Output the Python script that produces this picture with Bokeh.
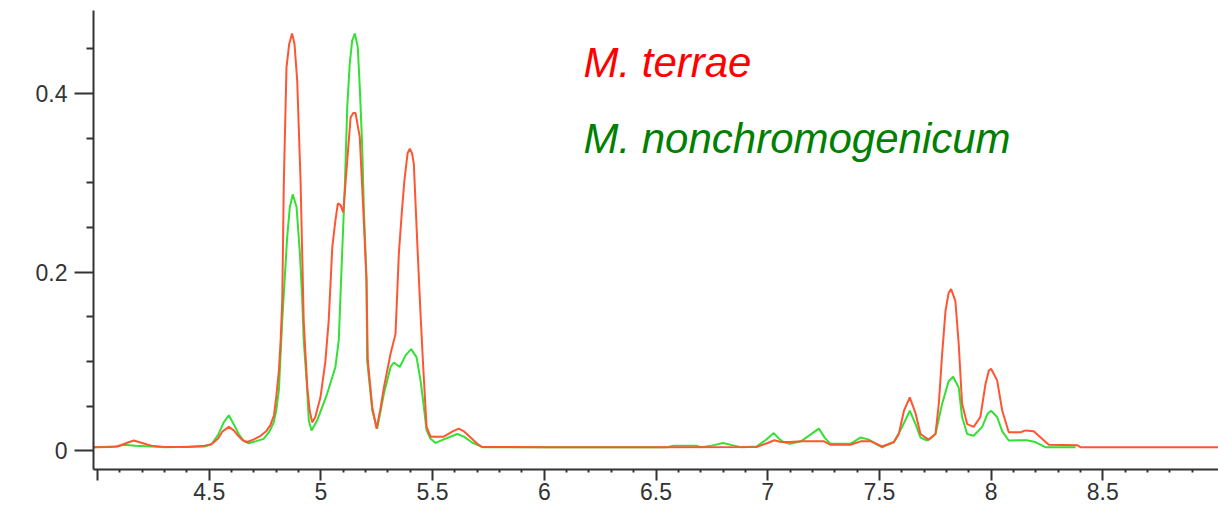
from bokeh.plotting import figure
from bokeh.models import LinearAxis, FixedTicker, CustomJSTickFormatter, Label, Range1d
from bokeh.embed import file_html
from bokeh.resources import INLINE

# ---------------- data ----------------
terrae_x = [3.983, 4.05, 4.09, 4.13, 4.163, 4.20, 4.24, 4.30, 4.40, 4.48, 4.51, 4.54, 4.56, 4.588,
            4.61, 4.63, 4.65, 4.67, 4.70, 4.73, 4.755, 4.774, 4.79, 4.80, 4.812, 4.82, 4.827, 4.834,
            4.846, 4.858, 4.871, 4.882, 4.894, 4.909, 4.923, 4.939, 4.95, 4.961, 4.975, 4.998, 5.02,
            5.035, 5.051, 5.065, 5.076, 5.088, 5.10, 5.118, 5.133, 5.145, 5.155, 5.174, 5.192, 5.204,
            5.210, 5.230, 5.249, 5.265, 5.282, 5.312, 5.334, 5.349, 5.364, 5.374, 5.388, 5.398, 5.408,
            5.416, 5.431, 5.446, 5.458, 5.473, 5.491, 5.55, 5.59, 5.617, 5.64, 5.67, 5.70, 5.722, 6.0,
            6.5, 6.95, 7.0, 7.03, 7.06, 7.10, 7.15, 7.25, 7.28, 7.37, 7.42, 7.46, 7.512, 7.565, 7.587,
            7.61, 7.636, 7.662, 7.684, 7.721, 7.751, 7.766, 7.781, 7.796, 7.81, 7.821, 7.84, 7.855,
            7.870, 7.893, 7.922, 7.952, 7.975, 7.99, 8.0, 8.027, 8.05, 8.079, 8.132, 8.154, 8.191,
            8.228, 8.258, 8.385, 8.40, 9.02]
terrae_y = [0.0043, 0.0045, 0.005, 0.009, 0.0117, 0.009, 0.006, 0.0045, 0.0045, 0.006, 0.0075, 0.014,
            0.022, 0.027, 0.023, 0.017, 0.012, 0.010, 0.013, 0.017, 0.022, 0.029, 0.040, 0.060, 0.090,
            0.125, 0.168, 0.300, 0.429, 0.455, 0.467, 0.455, 0.414, 0.302, 0.146, 0.071, 0.045, 0.032,
            0.038, 0.060, 0.100, 0.146, 0.228, 0.258, 0.277, 0.275, 0.267, 0.325, 0.373, 0.378, 0.378,
            0.351, 0.258, 0.191, 0.101, 0.049, 0.025, 0.045, 0.071, 0.109, 0.131, 0.221, 0.273, 0.303,
            0.333, 0.338, 0.333, 0.321, 0.235, 0.153, 0.094, 0.027, 0.016, 0.016, 0.022, 0.025, 0.022,
            0.015, 0.008, 0.0045, 0.0043, 0.0043, 0.0045, 0.009, 0.012, 0.010, 0.010, 0.011, 0.011,
            0.007, 0.007, 0.011, 0.011, 0.005, 0.010, 0.019, 0.045, 0.060, 0.042, 0.019, 0.0125, 0.019,
            0.053, 0.109, 0.157, 0.177, 0.181, 0.168, 0.120, 0.053, 0.030, 0.027, 0.038, 0.075, 0.090,
            0.092, 0.079, 0.045, 0.021, 0.021, 0.023, 0.022, 0.0136, 0.007, 0.0065, 0.0043, 0.0043]

nonchrom_x = [3.983, 4.08, 4.118, 4.17, 4.24, 4.30, 4.48, 4.51, 4.54, 4.565, 4.588, 4.61, 4.632, 4.655,
              4.677, 4.71, 4.744, 4.77, 4.789, 4.80, 4.812, 4.827, 4.849, 4.861, 4.874, 4.891, 4.906,
              4.916, 4.923, 4.936, 4.946, 4.958, 4.983, 5.028, 5.065, 5.080, 5.095, 5.107, 5.118, 5.129,
              5.140, 5.152, 5.165, 5.174, 5.185, 5.192, 5.204, 5.207, 5.230, 5.252, 5.282, 5.312, 5.327,
              5.353, 5.379, 5.404, 5.428, 5.446, 5.461, 5.473, 5.49, 5.513, 5.55, 5.61, 5.64, 5.68, 5.722,
              6.55, 6.58, 6.68, 6.70, 6.75, 6.80, 6.85, 6.88, 6.95, 6.99, 7.027, 7.05, 7.07, 7.10, 7.15,
              7.19, 7.229, 7.255, 7.281, 7.37, 7.415, 7.45, 7.512, 7.565, 7.602, 7.636, 7.662, 7.684,
              7.714, 7.751, 7.781, 7.81, 7.83, 7.855, 7.870, 7.893, 7.922, 7.96, 7.985, 8.0, 8.027, 8.05,
              8.079, 8.13, 8.16, 8.198, 8.243, 8.378]
nonchrom_y = [0.0043, 0.005, 0.007, 0.006, 0.005, 0.0043, 0.005, 0.0075, 0.018, 0.032, 0.040, 0.030,
              0.019, 0.011, 0.0087, 0.011, 0.0136, 0.022, 0.032, 0.045, 0.068, 0.146, 0.239, 0.273,
              0.287, 0.273, 0.221, 0.172, 0.124, 0.079, 0.034, 0.023, 0.034, 0.064, 0.094, 0.124, 0.221,
              0.295, 0.385, 0.433, 0.459, 0.467, 0.452, 0.407, 0.340, 0.273, 0.194, 0.101, 0.045, 0.025,
              0.064, 0.094, 0.099, 0.094, 0.107, 0.114, 0.105, 0.079, 0.049, 0.023, 0.014, 0.009, 0.013,
              0.019, 0.016, 0.009, 0.0043, 0.0043, 0.006, 0.006, 0.0043, 0.006, 0.009, 0.006, 0.0043,
              0.005, 0.012, 0.020, 0.014, 0.010, 0.008, 0.011, 0.018, 0.025, 0.015, 0.008, 0.008, 0.015,
              0.013, 0.004, 0.010, 0.027, 0.045, 0.030, 0.015, 0.0117, 0.019, 0.053, 0.078, 0.083, 0.071,
              0.038, 0.019, 0.017, 0.027, 0.042, 0.045, 0.038, 0.022, 0.0117, 0.012, 0.012, 0.010,
              0.0043, 0.0043]

series_names = ["M. terrae", "M. nonchromogenicum"]

x_major_ticks = [4.0, 4.5, 5.0, 5.5, 6.0, 6.5, 7.0, 7.5, 8.0, 8.5]
x_tick_labels = ["", "4.5", "5", "5.5", "6", "6.5", "7", "7.5", "8", "8.5"]
y_major_ticks = [0.0, 0.2, 0.4]
y_tick_labels = ["0", "0.2", "0.4"]
y_mid_ticks = [0.1, 0.3]
y_minor_ticks = [0.05, 0.1, 0.15, 0.25, 0.3, 0.35, 0.45]
x_minor_ticks = [round(4.0 + 0.1 * i, 1) for i in range(1, 50) if i % 5 != 0]

# ---------------- figure ----------------
X0, X1 = 3.9821, 9.0179
Y0, Y1 = -0.0207, 0.4927

p = figure(width=1218, height=511, output_backend="svg", toolbar_location=None,
           x_range=Range1d(X0, X1), y_range=Range1d(Y0, Y1),
           min_border_left=93, min_border_right=0, min_border_top=10, min_border_bottom=42)
p.background_fill_color = "white"
p.border_fill_color = "white"
p.outline_line_color = None
p.xgrid.visible = False
p.ygrid.visible = False

AX = "#333333"
TICK_FONT = "Liberation Sans"

xa = p.xaxis[0]
xa.ticker = FixedTicker(ticks=x_major_ticks, minor_ticks=x_minor_ticks)
xa.major_label_overrides = dict(zip(x_major_ticks, x_tick_labels))
xa.axis_line_color = AX
xa.axis_line_width = 2
xa.major_tick_line_color = AX
xa.major_tick_line_width = 2
xa.minor_tick_line_color = AX
xa.minor_tick_line_width = 2
xa.major_tick_in = 0
xa.major_tick_out = 11
xa.minor_tick_in = 0
xa.minor_tick_out = 3
xa.major_label_standoff = 2
xa.major_label_text_font = TICK_FONT
xa.major_label_text_font_size = "23px"
xa.major_label_text_color = "#333333"

ya = p.yaxis[0]
ya.ticker = FixedTicker(ticks=y_major_ticks, minor_ticks=y_minor_ticks)
ya.major_label_overrides = dict(zip(y_major_ticks, y_tick_labels))
ya.axis_line_color = AX
ya.axis_line_width = 2
ya.major_tick_line_color = AX
ya.major_tick_line_width = 2
ya.minor_tick_line_color = AX
ya.minor_tick_line_width = 2
ya.major_tick_in = 0
ya.major_tick_out = 19
ya.minor_tick_in = 0
ya.minor_tick_out = 7
ya.major_label_standoff = 7
ya.major_label_text_font = TICK_FONT
ya.major_label_text_font_size = "23px"
ya.major_label_text_color = "#333333"

mid = LinearAxis(ticker=FixedTicker(ticks=y_mid_ticks, minor_ticks=[]),
                 formatter=CustomJSTickFormatter(code="return ''"),
                 fixed_location=X0)
mid.axis_line_color = None
mid.major_tick_line_color = AX
mid.major_tick_line_width = 2
mid.major_tick_in = 0
mid.major_tick_out = 13
mid.minor_tick_out = 0
mid.major_label_standoff = 0
mid.major_label_text_font_size = "1px"
p.add_layout(mid, "left")

p.line(nonchrom_x, nonchrom_y, line_color="#33e033", line_width=2)
p.line(terrae_x, terrae_y, line_color="#ff5533", line_width=2)

for name, ly, col in [(series_names[0], 0.434, "#ff0000"), (series_names[1], 0.3496, "#008000")]:
    p.add_layout(Label(x=6.175, y=ly, text=name, text_font="Liberation Sans",
                       text_font_style="italic", text_font_size="42px", text_color=col,
                       text_baseline="alphabetic"))

open("out.html", "w").write(file_html(p, INLINE))
